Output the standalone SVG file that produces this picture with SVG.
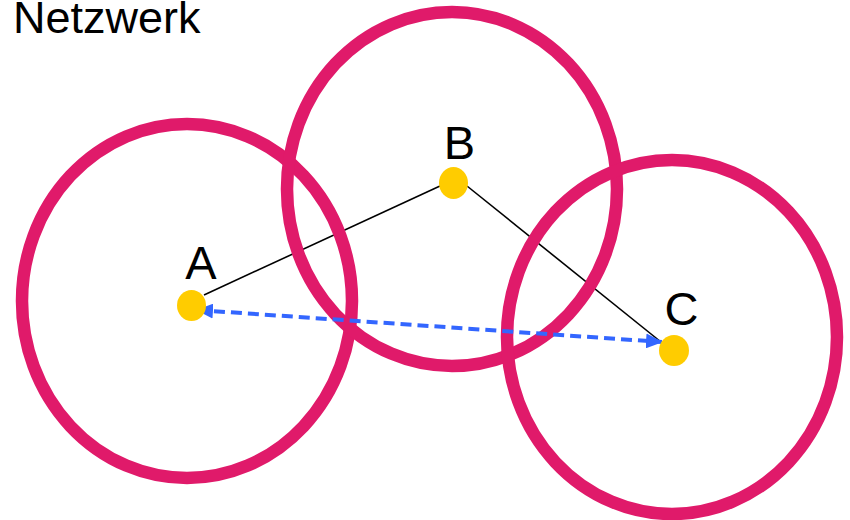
<svg xmlns="http://www.w3.org/2000/svg" width="850" height="520" viewBox="0 0 850 520">
<style>
.ring{fill:none;stroke:#E01A6A;stroke-width:12.5}
.dot{fill:#FFCC00}
.lbl{font-family:"Liberation Sans",Arial,sans-serif;font-size:47px;fill:#000;text-anchor:middle}
.edge{stroke:#000;stroke-width:1.6;fill:none}
.link{stroke:#3366FF;stroke-width:4;stroke-dasharray:11 6;fill:none}
</style>
<defs>
<marker id="ah" markerUnits="userSpaceOnUse" markerWidth="17" markerHeight="15" refX="16" refY="7.5" orient="auto-start-reverse" viewBox="0 0 17 15">
<path d="M0,0 L17,7.5 L0,15 z" fill="#3366FF"/>
</marker>
</defs>
<rect width="850" height="520" fill="#fff"/>
<text x="13" y="33" style="font-family:'Liberation Sans',Arial,sans-serif;font-size:45px;fill:#000">Netzwerk</text>
<g id="edges-under">
<line class="edge" x1="204" y1="295" x2="440" y2="186"/>
<line class="edge" x1="467" y1="186" x2="661" y2="342"/>
</g>
<g id="ranges">
<ellipse id="range-A" class="ring" cx="187" cy="301" rx="165" ry="177"/>
<ellipse id="range-B" class="ring" cx="452" cy="189" rx="165" ry="177"/>
<ellipse id="range-C" class="ring" cx="672" cy="337" rx="165" ry="177"/>
</g>
<g id="connectors">
<line class="link" x1="197" y1="310" x2="662" y2="342" marker-start="url(#ah)" marker-end="url(#ah)"/>
</g>
<g id="node-A">
<ellipse class="dot" cx="191.5" cy="305.5" rx="14.5" ry="15.5"/>
<text class="lbl" x="201" y="279">A</text>
</g>
<g id="node-B">
<ellipse class="dot" cx="453.5" cy="183" rx="14.5" ry="16"/>
<text class="lbl" x="459.5" y="159">B</text>
</g>
<g id="node-C">
<ellipse class="dot" cx="674" cy="350.5" rx="15" ry="15.5"/>
<text class="lbl" x="681.5" y="325">C</text>
</g>
</svg>
